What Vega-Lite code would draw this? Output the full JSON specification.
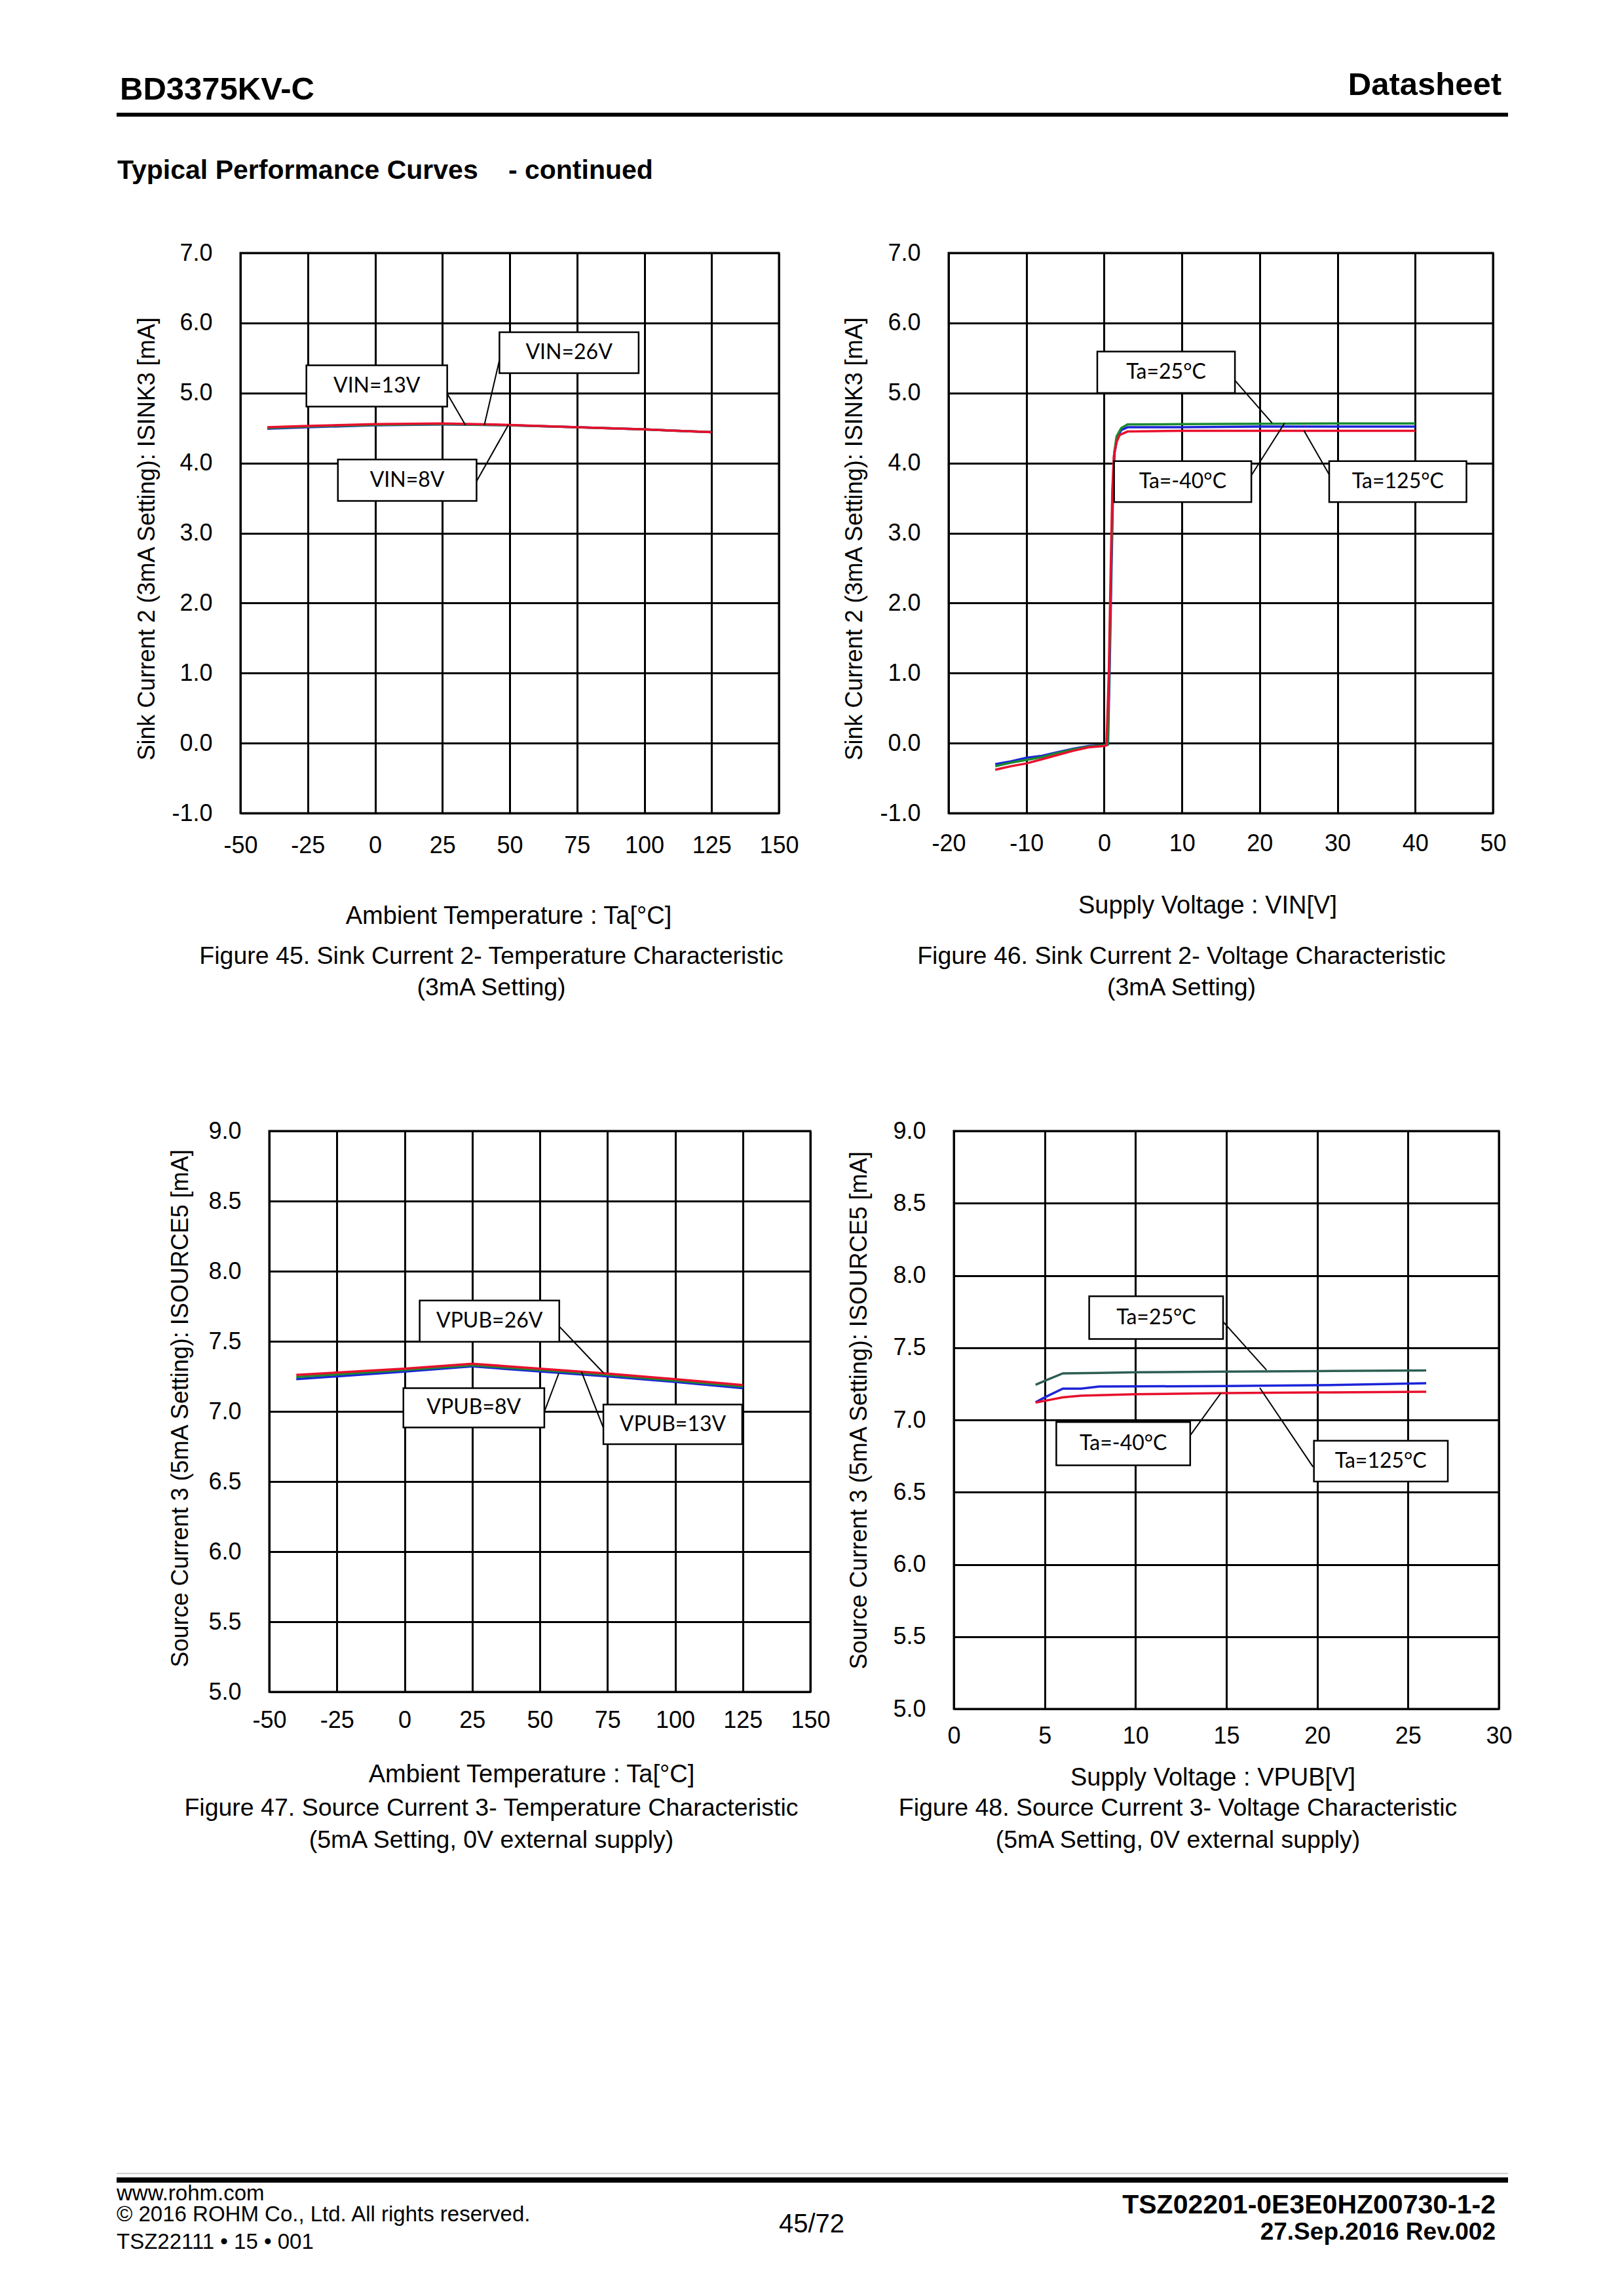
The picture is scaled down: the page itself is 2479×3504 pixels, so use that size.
{
  "$schema": "https://vega.github.io/schema/vega-lite/v6.json",
  "background": "white",
  "padding": 0,
  "bounds": "full",
  "spacing": 0,
  "resolve": {"scale": {"color": "independent"}},
  "config": {
    "font": "Liberation Sans",
    "view": {"stroke": null},
    "locale": {"number": {"decimal": ".", "thousands": ",", "grouping": [3], "currency": ["$", ""], "minus": "-"}},
    "axis": {"grid": true, "gridColor": "black", "gridWidth": 3, "gridOpacity": 1, "domain": false, "ticks": false, "tickSize": 0, "labelFontSize": 36, "labelColor": "black", "labelFlush": false, "labelOverlap": false, "titleFontSize": 38, "titleFontWeight": "normal", "titleColor": "black", "titleBaseline": "alphabetic", "titlePadding": 0}
  },
  "datasets": {
    "empty": [],
    "page": [
      {"id": "doc", "text": "BD3375KV-C"},
      {"id": "kind", "text": "Datasheet"},
      {"id": "section", "text": "Typical Performance Curves"},
      {"id": "cont", "text": "- continued"},
      {"id": "web", "text": "www.rohm.com"},
      {"id": "copy", "text": "© 2016 ROHM Co., Ltd. All rights reserved."},
      {"id": "form", "text": "TSZ22111 • 15 • 001"},
      {"id": "pageno", "text": "45/72"},
      {"id": "docno", "text": "TSZ02201-0E3E0HZ00730-1-2"},
      {"id": "rev", "text": "27.Sep.2016 Rev.002"}
    ],
    "fig45": [
      {"ta": -40, "isink": 4.49, "vin": "VIN=8V"}, {"ta": -25, "isink": 4.51, "vin": "VIN=8V"}, {"ta": 0, "isink": 4.54, "vin": "VIN=8V"}, {"ta": 25, "isink": 4.55, "vin": "VIN=8V"}, {"ta": 50, "isink": 4.54, "vin": "VIN=8V"}, {"ta": 75, "isink": 4.51, "vin": "VIN=8V"}, {"ta": 100, "isink": 4.48, "vin": "VIN=8V"}, {"ta": 125, "isink": 4.44, "vin": "VIN=8V"},
      {"ta": -40, "isink": 4.50, "vin": "VIN=13V"}, {"ta": -25, "isink": 4.52, "vin": "VIN=13V"}, {"ta": 0, "isink": 4.545, "vin": "VIN=13V"}, {"ta": 25, "isink": 4.555, "vin": "VIN=13V"}, {"ta": 50, "isink": 4.54, "vin": "VIN=13V"}, {"ta": 75, "isink": 4.51, "vin": "VIN=13V"}, {"ta": 100, "isink": 4.48, "vin": "VIN=13V"}, {"ta": 125, "isink": 4.44, "vin": "VIN=13V"},
      {"ta": -40, "isink": 4.51, "vin": "VIN=26V"}, {"ta": -25, "isink": 4.53, "vin": "VIN=26V"}, {"ta": 0, "isink": 4.555, "vin": "VIN=26V"}, {"ta": 25, "isink": 4.565, "vin": "VIN=26V"}, {"ta": 50, "isink": 4.545, "vin": "VIN=26V"}, {"ta": 75, "isink": 4.51, "vin": "VIN=26V"}, {"ta": 100, "isink": 4.48, "vin": "VIN=26V"}, {"ta": 125, "isink": 4.44, "vin": "VIN=26V"}
    ],
    "notes45": [
      {"label": "VIN=13V", "bx1": -25.5, "bx2": 26.8, "by1": 4.806, "by2": 5.396, "tx": 0.65, "ty": 5.10, "lx1": 26.8, "ly1": 4.99, "lx2": 33.55, "ly2": 4.544},
      {"label": "VIN=26V", "bx1": 46.2, "bx2": 97.9, "by1": 5.283, "by2": 5.867, "tx": 72.05, "ty": 5.575, "lx1": 46.2, "ly1": 5.47, "lx2": 40.6, "ly2": 4.544},
      {"label": "VIN=8V", "bx1": -13.8, "bx2": 37.7, "by1": 3.459, "by2": 4.05, "tx": 11.95, "ty": 3.755, "lx1": 37.7, "ly1": 3.74, "lx2": 49.5, "ly2": 4.544}
    ],
    "fig46": [
      {"vin": -14, "isink": -0.30, "ta": "Ta=-40°C"}, {"vin": -12, "isink": -0.26, "ta": "Ta=-40°C"}, {"vin": -10, "isink": -0.21, "ta": "Ta=-40°C"}, {"vin": -8, "isink": -0.18, "ta": "Ta=-40°C"}, {"vin": -6, "isink": -0.13, "ta": "Ta=-40°C"}, {"vin": -4, "isink": -0.08, "ta": "Ta=-40°C"}, {"vin": -2, "isink": -0.04, "ta": "Ta=-40°C"}, {"vin": 0, "isink": -0.03, "ta": "Ta=-40°C"}, {"vin": 0.5, "isink": -0.02, "ta": "Ta=-40°C"}, {"vin": 0.7, "isink": 1.0, "ta": "Ta=-40°C"}, {"vin": 0.95, "isink": 2.5, "ta": "Ta=-40°C"}, {"vin": 1.15, "isink": 3.6, "ta": "Ta=-40°C"}, {"vin": 1.35, "isink": 4.15, "ta": "Ta=-40°C"}, {"vin": 1.7, "isink": 4.37, "ta": "Ta=-40°C"}, {"vin": 2.2, "isink": 4.47, "ta": "Ta=-40°C"}, {"vin": 3, "isink": 4.51, "ta": "Ta=-40°C"}, {"vin": 10, "isink": 4.51, "ta": "Ta=-40°C"}, {"vin": 20, "isink": 4.52, "ta": "Ta=-40°C"}, {"vin": 30, "isink": 4.52, "ta": "Ta=-40°C"}, {"vin": 40, "isink": 4.52, "ta": "Ta=-40°C"},
      {"vin": -14, "isink": -0.33, "ta": "Ta=25°C"}, {"vin": -12, "isink": -0.28, "ta": "Ta=25°C"}, {"vin": -10, "isink": -0.24, "ta": "Ta=25°C"}, {"vin": -8, "isink": -0.20, "ta": "Ta=25°C"}, {"vin": -6, "isink": -0.14, "ta": "Ta=25°C"}, {"vin": -4, "isink": -0.09, "ta": "Ta=25°C"}, {"vin": -2, "isink": -0.05, "ta": "Ta=25°C"}, {"vin": 0, "isink": -0.03, "ta": "Ta=25°C"}, {"vin": 0.45, "isink": -0.02, "ta": "Ta=25°C"}, {"vin": 0.65, "isink": 1.0, "ta": "Ta=25°C"}, {"vin": 0.9, "isink": 2.5, "ta": "Ta=25°C"}, {"vin": 1.1, "isink": 3.6, "ta": "Ta=25°C"}, {"vin": 1.3, "isink": 4.15, "ta": "Ta=25°C"}, {"vin": 1.6, "isink": 4.38, "ta": "Ta=25°C"}, {"vin": 2.2, "isink": 4.5, "ta": "Ta=25°C"}, {"vin": 3, "isink": 4.55, "ta": "Ta=25°C"}, {"vin": 10, "isink": 4.555, "ta": "Ta=25°C"}, {"vin": 20, "isink": 4.56, "ta": "Ta=25°C"}, {"vin": 30, "isink": 4.565, "ta": "Ta=25°C"}, {"vin": 40, "isink": 4.565, "ta": "Ta=25°C"},
      {"vin": -14, "isink": -0.38, "ta": "Ta=125°C"}, {"vin": -12, "isink": -0.33, "ta": "Ta=125°C"}, {"vin": -10, "isink": -0.29, "ta": "Ta=125°C"}, {"vin": -8, "isink": -0.23, "ta": "Ta=125°C"}, {"vin": -6, "isink": -0.17, "ta": "Ta=125°C"}, {"vin": -4, "isink": -0.11, "ta": "Ta=125°C"}, {"vin": -2, "isink": -0.06, "ta": "Ta=125°C"}, {"vin": 0, "isink": -0.04, "ta": "Ta=125°C"}, {"vin": 0.3, "isink": -0.03, "ta": "Ta=125°C"}, {"vin": 0.6, "isink": 1.0, "ta": "Ta=125°C"}, {"vin": 0.85, "isink": 2.5, "ta": "Ta=125°C"}, {"vin": 1.05, "isink": 3.6, "ta": "Ta=125°C"}, {"vin": 1.25, "isink": 4.1, "ta": "Ta=125°C"}, {"vin": 1.6, "isink": 4.3, "ta": "Ta=125°C"}, {"vin": 2, "isink": 4.4, "ta": "Ta=125°C"}, {"vin": 3, "isink": 4.45, "ta": "Ta=125°C"}, {"vin": 10, "isink": 4.46, "ta": "Ta=125°C"}, {"vin": 20, "isink": 4.46, "ta": "Ta=125°C"}, {"vin": 30, "isink": 4.46, "ta": "Ta=125°C"}, {"vin": 40, "isink": 4.46, "ta": "Ta=125°C"}
    ],
    "notes46": [
      {"label": "Ta=25°C", "bx1": -0.88, "bx2": 16.82, "by1": 5.0, "by2": 5.591, "tx": 7.97, "ty": 5.296, "lx1": 16.82, "ly1": 5.179, "lx2": 21.6, "ly2": 4.57},
      {"label": "Ta=-40°C", "bx1": 1.28, "bx2": 18.93, "by1": 3.442, "by2": 4.027, "tx": 10.1, "ty": 3.735, "lx1": 18.93, "ly1": 3.824, "lx2": 23.2, "ly2": 4.57},
      {"label": "Ta=125°C", "bx1": 28.94, "bx2": 46.59, "by1": 3.442, "by2": 4.027, "tx": 37.77, "ty": 3.735, "lx1": 28.94, "ly1": 3.836, "lx2": 25.7, "ly2": 4.463}
    ],
    "fig47": [
      {"ta": -40, "isource": 7.23, "vpub": "VPUB=8V"}, {"ta": 0, "isource": 7.284, "vpub": "VPUB=8V"}, {"ta": 25, "isource": 7.321, "vpub": "VPUB=8V"}, {"ta": 50, "isource": 7.285, "vpub": "VPUB=8V"}, {"ta": 75, "isource": 7.25, "vpub": "VPUB=8V"}, {"ta": 100, "isource": 7.21, "vpub": "VPUB=8V"}, {"ta": 125, "isource": 7.166, "vpub": "VPUB=8V"},
      {"ta": -40, "isource": 7.245, "vpub": "VPUB=13V"}, {"ta": 0, "isource": 7.295, "vpub": "VPUB=13V"}, {"ta": 25, "isource": 7.33, "vpub": "VPUB=13V"}, {"ta": 50, "isource": 7.295, "vpub": "VPUB=13V"}, {"ta": 75, "isource": 7.26, "vpub": "VPUB=13V"}, {"ta": 100, "isource": 7.22, "vpub": "VPUB=13V"}, {"ta": 125, "isource": 7.177, "vpub": "VPUB=13V"},
      {"ta": -40, "isource": 7.26, "vpub": "VPUB=26V"}, {"ta": 0, "isource": 7.305, "vpub": "VPUB=26V"}, {"ta": 25, "isource": 7.34, "vpub": "VPUB=26V"}, {"ta": 50, "isource": 7.305, "vpub": "VPUB=26V"}, {"ta": 75, "isource": 7.27, "vpub": "VPUB=26V"}, {"ta": 100, "isource": 7.23, "vpub": "VPUB=26V"}, {"ta": 125, "isource": 7.188, "vpub": "VPUB=26V"}
    ],
    "notes47": [
      {"label": "VPUB=26V", "bx1": 5.6, "bx2": 57.2, "by1": 7.497, "by2": 7.791, "tx": 31.4, "ty": 7.644, "lx1": 57.2, "ly1": 7.606, "lx2": 73.7, "ly2": 7.271},
      {"label": "VPUB=8V", "bx1": -0.42, "bx2": 51.67, "by1": 6.886, "by2": 7.166, "tx": 25.6, "ty": 7.026, "lx1": 51.67, "ly1": 6.997, "lx2": 57.0, "ly2": 7.271},
      {"label": "VPUB=13V", "bx1": 73.5, "bx2": 124.8, "by1": 6.766, "by2": 7.049, "tx": 99.15, "ty": 6.908, "lx1": 73.5, "ly1": 6.883, "lx2": 65.4, "ly2": 7.283}
    ],
    "fig48": [
      {"vpub": 4.5, "isource": 7.243, "ta": "Ta=25°C"}, {"vpub": 5, "isource": 7.27, "ta": "Ta=25°C"}, {"vpub": 6, "isource": 7.322, "ta": "Ta=25°C"}, {"vpub": 8, "isource": 7.325, "ta": "Ta=25°C"}, {"vpub": 10, "isource": 7.33, "ta": "Ta=25°C"}, {"vpub": 15, "isource": 7.334, "ta": "Ta=25°C"}, {"vpub": 20, "isource": 7.338, "ta": "Ta=25°C"}, {"vpub": 26, "isource": 7.342, "ta": "Ta=25°C"},
      {"vpub": 4.5, "isource": 7.122, "ta": "Ta=125°C"}, {"vpub": 5, "isource": 7.156, "ta": "Ta=125°C"}, {"vpub": 6, "isource": 7.217, "ta": "Ta=125°C"}, {"vpub": 7, "isource": 7.217, "ta": "Ta=125°C"}, {"vpub": 8, "isource": 7.231, "ta": "Ta=125°C"}, {"vpub": 10, "isource": 7.232, "ta": "Ta=125°C"}, {"vpub": 15, "isource": 7.235, "ta": "Ta=125°C"}, {"vpub": 20, "isource": 7.24, "ta": "Ta=125°C"}, {"vpub": 26, "isource": 7.254, "ta": "Ta=125°C"},
      {"vpub": 4.5, "isource": 7.12, "ta": "Ta=-40°C"}, {"vpub": 5, "isource": 7.132, "ta": "Ta=-40°C"}, {"vpub": 6, "isource": 7.156, "ta": "Ta=-40°C"}, {"vpub": 7, "isource": 7.168, "ta": "Ta=-40°C"}, {"vpub": 10, "isource": 7.178, "ta": "Ta=-40°C"}, {"vpub": 15, "isource": 7.186, "ta": "Ta=-40°C"}, {"vpub": 20, "isource": 7.19, "ta": "Ta=-40°C"}, {"vpub": 26, "isource": 7.195, "ta": "Ta=-40°C"}
    ],
    "notes48": [
      {"label": "Ta=25°C", "bx1": 7.45, "bx2": 14.82, "by1": 7.56, "by2": 7.856, "tx": 11.14, "ty": 7.708, "lx1": 14.82, "ly1": 7.68, "lx2": 17.21, "ly2": 7.345},
      {"label": "Ta=-40°C", "bx1": 5.64, "bx2": 13.01, "by1": 6.686, "by2": 6.985, "tx": 9.33, "ty": 6.836, "lx1": 13.01, "ly1": 6.893, "lx2": 14.7, "ly2": 7.186},
      {"label": "Ta=125°C", "bx1": 19.82, "bx2": 27.19, "by1": 6.574, "by2": 6.856, "tx": 23.5, "ty": 6.715, "lx1": 19.77, "ly1": 6.675, "lx2": 16.84, "ly2": 7.222}
    ]
  },
  "vconcat": [
    {
      "hconcat": [
        {"width": 178, "height": 172, "data": {"name": "empty"}, "mark": {"type": "point", "opacity": 0}},
        {
          "width": 2124, "height": 172,
          "data": {"name": "page"},
          "layer": [
            {"transform": [{"filter": "datum.id === 'doc'"}], "mark": {"type": "text", "align": "left", "baseline": "alphabetic", "dx": 5, "dy": -20, "fontSize": 49, "fontWeight": "bold", "color": "black"},
             "encoding": {"x": {"datum": 0, "type": "quantitative", "scale": {"domain": [0, 1]}, "axis": null}, "y": {"datum": 0, "type": "quantitative", "scale": {"domain": [0, 1]}, "axis": null}, "text": {"field": "text"}}},
            {"transform": [{"filter": "datum.id === 'kind'"}], "mark": {"type": "text", "align": "right", "baseline": "alphabetic", "dx": -10, "dy": -27, "fontSize": 49, "fontWeight": "bold", "color": "black"},
             "encoding": {"x": {"datum": 1, "type": "quantitative"}, "y": {"datum": 0, "type": "quantitative"}, "text": {"field": "text"}}}
          ]
        },
        {"width": 177, "height": 172, "data": {"name": "empty"}, "mark": {"type": "point", "opacity": 0}}
      ],
      "bounds": "flush", "spacing": 0
    },
    {
      "hconcat": [
        {"width": 178, "height": 6, "data": {"name": "empty"}, "mark": {"type": "point", "opacity": 0}},
        {"width": 2124, "height": 6, "view": {"fill": "black", "stroke": null}, "data": {"name": "empty"}, "mark": {"type": "point", "opacity": 0}}
      ],
      "bounds": "flush", "spacing": 0
    },
    {
      "hconcat": [
        {"width": 178, "height": 188, "data": {"name": "empty"}, "mark": {"type": "point", "opacity": 0}},
        {
          "width": 2124, "height": 188,
          "data": {"name": "page"},
          "layer": [
            {"transform": [{"filter": "datum.id === 'section'"}], "mark": {"type": "text", "align": "left", "baseline": "alphabetic", "dx": 1, "dy": 95, "fontSize": 41, "fontWeight": "bold", "color": "black"},
             "encoding": {"x": {"datum": 0, "type": "quantitative", "scale": {"domain": [0, 1]}, "axis": null}, "y": {"datum": 1, "type": "quantitative", "scale": {"domain": [0, 1]}, "axis": null}, "text": {"field": "text"}}},
            {"transform": [{"filter": "datum.id === 'cont'"}], "mark": {"type": "text", "align": "left", "baseline": "alphabetic", "dy": 95, "fontSize": 41, "fontWeight": "bold", "color": "black"},
             "encoding": {"x": {"datum": 0.2815, "type": "quantitative"}, "y": {"datum": 1, "type": "quantitative"}, "text": {"field": "text"}}}
          ]
        }
      ],
      "bounds": "flush", "spacing": 0
    },
    {
      "hconcat": [
        {"width": 367, "height": 1320, "data": {"name": "empty"}, "mark": {"type": "point", "opacity": 0}},
        {
          "width": 822, "height": 855,
          "view": {"stroke": "black", "strokeWidth": 3},
          "title": {"text": ["Figure 45. Sink Current 2- Temperature Characteristic", "(3mA Setting)"], "orient": "bottom", "frame": "group", "anchor": "middle", "baseline": "alphabetic", "offset": 54, "dx": -28, "fontSize": 37.5, "fontWeight": "normal", "lineHeight": 48, "color": "black"},
          "layer": [
            {"data": {"name": "fig45"}, "mark": {"type": "line", "strokeWidth": 3.5},
             "encoding": {
               "x": {"field": "ta", "type": "quantitative", "scale": {"domain": [-50, 150], "nice": false, "zero": false},
                     "axis": {"values": [-50, -25, 0, 25, 50, 75, 100, 125, 150], "format": "d", "labelPadding": 60, "labelBaseline": "alphabetic", "labelFlush": false, "title": "Ambient Temperature : Ta[°C]", "titleX": 409, "titleY": 168, "titleAlign": "center"}},
               "y": {"field": "isink", "type": "quantitative", "scale": {"domain": [-1, 7], "nice": false, "zero": false},
                     "axis": {"values": [-1, 0, 1, 2, 3, 4, 5, 6, 7], "format": ".1f", "labelPadding": 43, "labelFlush": false, "title": "Sink Current 2 (3mA Setting): ISINK3 [mA]", "titleFontSize": 36, "titleX": -132, "titleY": 774, "titleAngle": 270, "titleAlign": "left"}},
               "color": {"field": "vin", "type": "nominal", "scale": {"domain": ["VIN=8V", "VIN=13V", "VIN=26V"], "range": ["#1c24d8", "#1a8a30", "#e8102e"]}, "legend": null}
             }},
            {"data": {"name": "notes45"}, "mark": {"type": "rule", "color": "black", "strokeWidth": 2},
             "encoding": {"x": {"field": "lx1", "type": "quantitative"}, "y": {"field": "ly1", "type": "quantitative"}, "x2": {"field": "lx2"}, "y2": {"field": "ly2"}}},
            {"data": {"name": "notes45"}, "mark": {"type": "rect", "fill": "white", "stroke": "black", "strokeWidth": 2.5},
             "encoding": {"x": {"field": "bx1", "type": "quantitative"}, "x2": {"field": "bx2"}, "y": {"field": "by1", "type": "quantitative"}, "y2": {"field": "by2"}}},
            {"data": {"name": "notes45"}, "mark": {"type": "text", "font": "Lato", "fontSize": 32, "color": "black", "baseline": "middle"},
             "encoding": {"x": {"field": "tx", "type": "quantitative"}, "y": {"field": "ty", "type": "quantitative"}, "text": {"field": "label"}}}
          ]
        },
        {"width": 259, "height": 1, "data": {"name": "empty"}, "mark": {"type": "point", "opacity": 0}},
        {
          "width": 831, "height": 855,
          "view": {"stroke": "black", "strokeWidth": 3},
          "title": {"text": ["Figure 46. Sink Current 2- Voltage Characteristic", "(3mA Setting)"], "orient": "bottom", "frame": "group", "anchor": "middle", "baseline": "alphabetic", "offset": 70, "dx": -60, "fontSize": 37.5, "fontWeight": "normal", "lineHeight": 48, "color": "black"},
          "layer": [
            {"data": {"name": "fig46"}, "mark": {"type": "line", "strokeWidth": 3.5},
             "encoding": {
               "x": {"field": "vin", "type": "quantitative", "scale": {"domain": [-20, 50], "nice": false, "zero": false},
                     "axis": {"values": [-20, -10, 0, 10, 20, 30, 40, 50], "format": "d", "labelPadding": 57, "labelBaseline": "alphabetic", "labelFlush": false, "title": "Supply Voltage : VIN[V]", "titleX": 395, "titleY": 152, "titleAlign": "center"}},
               "y": {"field": "isink", "type": "quantitative", "scale": {"domain": [-1, 7], "nice": false, "zero": false},
                     "axis": {"values": [-1, 0, 1, 2, 3, 4, 5, 6, 7], "format": ".1f", "labelPadding": 43, "labelFlush": false, "title": "Sink Current 2 (3mA Setting): ISINK3 [mA]", "titleFontSize": 36, "titleX": -133, "titleY": 774, "titleAngle": 270, "titleAlign": "left"}},
               "color": {"field": "ta", "type": "nominal", "scale": {"domain": ["Ta=-40°C", "Ta=25°C", "Ta=125°C"], "range": ["#1c24d8", "#1a8a30", "#e8102e"]}, "legend": null}
             }},
            {"data": {"name": "notes46"}, "mark": {"type": "rule", "color": "black", "strokeWidth": 2},
             "encoding": {"x": {"field": "lx1", "type": "quantitative"}, "y": {"field": "ly1", "type": "quantitative"}, "x2": {"field": "lx2"}, "y2": {"field": "ly2"}}},
            {"data": {"name": "notes46"}, "mark": {"type": "rect", "fill": "white", "stroke": "black", "strokeWidth": 2.5},
             "encoding": {"x": {"field": "bx1", "type": "quantitative"}, "x2": {"field": "bx2"}, "y": {"field": "by1", "type": "quantitative"}, "y2": {"field": "by2"}}},
            {"data": {"name": "notes46"}, "mark": {"type": "text", "font": "Lato", "fontSize": 32, "color": "black", "baseline": "middle"},
             "encoding": {"x": {"field": "tx", "type": "quantitative"}, "y": {"field": "ty", "type": "quantitative"}, "text": {"field": "label"}}}
          ]
        }
      ],
      "bounds": "flush", "spacing": 0,
      "resolve": {"scale": {"color": "independent"}}
    },
    {
      "hconcat": [
        {"width": 411, "height": 1590, "data": {"name": "empty"}, "mark": {"type": "point", "opacity": 0}},
        {
          "width": 826, "height": 856,
          "view": {"stroke": "black", "strokeWidth": 3},
          "title": {"text": ["Figure 47. Source Current 3- Temperature Characteristic", "(5mA Setting, 0V external supply)"], "orient": "bottom", "frame": "group", "anchor": "middle", "baseline": "alphabetic", "offset": 44, "dx": -74, "fontSize": 37.5, "fontWeight": "normal", "lineHeight": 49, "color": "black"},
          "layer": [
            {"data": {"name": "fig47"}, "mark": {"type": "line", "strokeWidth": 3.5},
             "encoding": {
               "x": {"field": "ta", "type": "quantitative", "scale": {"domain": [-50, 150], "nice": false, "zero": false},
                     "axis": {"values": [-50, -25, 0, 25, 50, 75, 100, 125, 150], "format": "d", "labelPadding": 54, "labelBaseline": "alphabetic", "labelFlush": false, "title": "Ambient Temperature : Ta[°C]", "titleX": 400, "titleY": 137, "titleAlign": "center"}},
               "y": {"field": "isource", "type": "quantitative", "scale": {"domain": [5, 9], "nice": false, "zero": false},
                     "axis": {"values": [5, 5.5, 6, 6.5, 7, 7.5, 8, 8.5, 9], "format": ".1f", "labelPadding": 43, "labelFlush": false, "title": "Source Current 3 (5mA Setting): ISOURCE5 [mA]", "titleFontSize": 36, "titleX": -125, "titleY": 818, "titleAngle": 270, "titleAlign": "left"}},
               "color": {"field": "vpub", "type": "nominal", "scale": {"domain": ["VPUB=8V", "VPUB=13V", "VPUB=26V"], "range": ["#1c24d8", "#1a8a30", "#e8102e"]}, "legend": null}
             }},
            {"data": {"name": "notes47"}, "mark": {"type": "rule", "color": "black", "strokeWidth": 2},
             "encoding": {"x": {"field": "lx1", "type": "quantitative"}, "y": {"field": "ly1", "type": "quantitative"}, "x2": {"field": "lx2"}, "y2": {"field": "ly2"}}},
            {"data": {"name": "notes47"}, "mark": {"type": "rect", "fill": "white", "stroke": "black", "strokeWidth": 2.5},
             "encoding": {"x": {"field": "bx1", "type": "quantitative"}, "x2": {"field": "bx2"}, "y": {"field": "by1", "type": "quantitative"}, "y2": {"field": "by2"}}},
            {"data": {"name": "notes47"}, "mark": {"type": "text", "font": "Lato", "fontSize": 32, "color": "black", "baseline": "middle"},
             "encoding": {"x": {"field": "tx", "type": "quantitative"}, "y": {"field": "ty", "type": "quantitative"}, "text": {"field": "label"}}}
          ]
        },
        {"width": 219, "height": 1, "data": {"name": "empty"}, "mark": {"type": "point", "opacity": 0}},
        {
          "width": 832, "height": 882,
          "view": {"stroke": "black", "strokeWidth": 3},
          "title": {"text": ["Figure 48. Source Current 3- Voltage Characteristic", "(5mA Setting, 0V external supply)"], "orient": "bottom", "frame": "group", "anchor": "middle", "baseline": "alphabetic", "offset": 39, "dx": -74, "fontSize": 37.5, "fontWeight": "normal", "lineHeight": 49, "color": "black"},
          "layer": [
            {"data": {"name": "fig48"}, "mark": {"type": "line", "strokeWidth": 3.5},
             "encoding": {
               "x": {"field": "vpub", "type": "quantitative", "scale": {"domain": [0, 30], "nice": false, "zero": false},
                     "axis": {"values": [0, 5, 10, 15, 20, 25, 30], "format": "d", "labelPadding": 52, "labelBaseline": "alphabetic", "labelFlush": false, "title": "Supply Voltage : VPUB[V]", "titleX": 395, "titleY": 116, "titleAlign": "center"}},
               "y": {"field": "isource", "type": "quantitative", "scale": {"domain": [5, 9], "nice": false, "zero": false},
                     "axis": {"values": [5, 5.5, 6, 6.5, 7, 7.5, 8, 8.5, 9], "format": ".1f", "labelPadding": 43, "labelFlush": false, "title": "Source Current 3 (5mA Setting): ISOURCE5 [mA]", "titleFontSize": 36, "titleX": -134, "titleY": 821, "titleAngle": 270, "titleAlign": "left"}},
               "color": {"field": "ta", "type": "nominal", "scale": {"domain": ["Ta=125°C", "Ta=25°C", "Ta=-40°C"], "range": ["#1c24d8", "#2d5e52", "#e8102e"]}, "legend": null}
             }},
            {"data": {"name": "notes48"}, "mark": {"type": "rule", "color": "black", "strokeWidth": 2},
             "encoding": {"x": {"field": "lx1", "type": "quantitative"}, "y": {"field": "ly1", "type": "quantitative"}, "x2": {"field": "lx2"}, "y2": {"field": "ly2"}}},
            {"data": {"name": "notes48"}, "mark": {"type": "rect", "fill": "white", "stroke": "black", "strokeWidth": 2.5},
             "encoding": {"x": {"field": "bx1", "type": "quantitative"}, "x2": {"field": "bx2"}, "y": {"field": "by1", "type": "quantitative"}, "y2": {"field": "by2"}}},
            {"data": {"name": "notes48"}, "mark": {"type": "text", "font": "Lato", "fontSize": 32, "color": "black", "baseline": "middle"},
             "encoding": {"x": {"field": "tx", "type": "quantitative"}, "y": {"field": "ty", "type": "quantitative"}, "text": {"field": "label"}}}
          ]
        }
      ],
      "bounds": "flush", "spacing": 0,
      "resolve": {"scale": {"color": "independent"}}
    },
    {
      "hconcat": [
        {"width": 178, "height": 7, "data": {"name": "empty"}, "mark": {"type": "point", "opacity": 0}},
        {"width": 2124, "height": 2, "view": {"fill": "#d0d0d0", "stroke": null}, "data": {"name": "empty"}, "mark": {"type": "point", "opacity": 0}}
      ],
      "bounds": "flush", "spacing": 0
    },
    {
      "hconcat": [
        {"width": 178, "height": 185, "data": {"name": "empty"}, "mark": {"type": "point", "opacity": 0}},
        {
          "width": 2124, "height": 8,
          "view": {"fill": "black", "stroke": null},
          "data": {"name": "page"},
          "layer": [
            {"transform": [{"filter": "datum.id === 'web'"}], "mark": {"type": "text", "align": "left", "baseline": "alphabetic", "dy": 27, "fontSize": 33, "color": "black"},
             "encoding": {"x": {"datum": 0, "type": "quantitative", "scale": {"domain": [0, 1]}, "axis": null}, "y": {"datum": 0, "type": "quantitative", "scale": {"domain": [0, 1]}, "axis": null}, "text": {"field": "text"}}},
            {"transform": [{"filter": "datum.id === 'copy'"}], "mark": {"type": "text", "align": "left", "baseline": "alphabetic", "dy": 59, "fontSize": 33, "color": "black"},
             "encoding": {"x": {"datum": 0, "type": "quantitative"}, "y": {"datum": 0, "type": "quantitative"}, "text": {"field": "text"}}},
            {"transform": [{"filter": "datum.id === 'form'"}], "mark": {"type": "text", "align": "left", "baseline": "alphabetic", "dy": 101, "fontSize": 33, "color": "black"},
             "encoding": {"x": {"datum": 0, "type": "quantitative"}, "y": {"datum": 0, "type": "quantitative"}, "text": {"field": "text"}}},
            {"transform": [{"filter": "datum.id === 'pageno'"}], "mark": {"type": "text", "align": "center", "baseline": "alphabetic", "dy": 76, "fontSize": 40, "color": "black"},
             "encoding": {"x": {"datum": 0.4995, "type": "quantitative"}, "y": {"datum": 0, "type": "quantitative"}, "text": {"field": "text"}}},
            {"transform": [{"filter": "datum.id === 'docno'"}], "mark": {"type": "text", "align": "right", "baseline": "alphabetic", "dx": -19, "dy": 47, "fontSize": 41, "fontWeight": "bold", "color": "black"},
             "encoding": {"x": {"datum": 1, "type": "quantitative"}, "y": {"datum": 0, "type": "quantitative"}, "text": {"field": "text"}}},
            {"transform": [{"filter": "datum.id === 'rev'"}], "mark": {"type": "text", "align": "right", "baseline": "alphabetic", "dx": -19, "dy": 87, "fontSize": 37, "fontWeight": "bold", "color": "black"},
             "encoding": {"x": {"datum": 1, "type": "quantitative"}, "y": {"datum": 0, "type": "quantitative"}, "text": {"field": "text"}}}
          ]
        }
      ],
      "bounds": "flush", "spacing": 0
    }
  ]
}
